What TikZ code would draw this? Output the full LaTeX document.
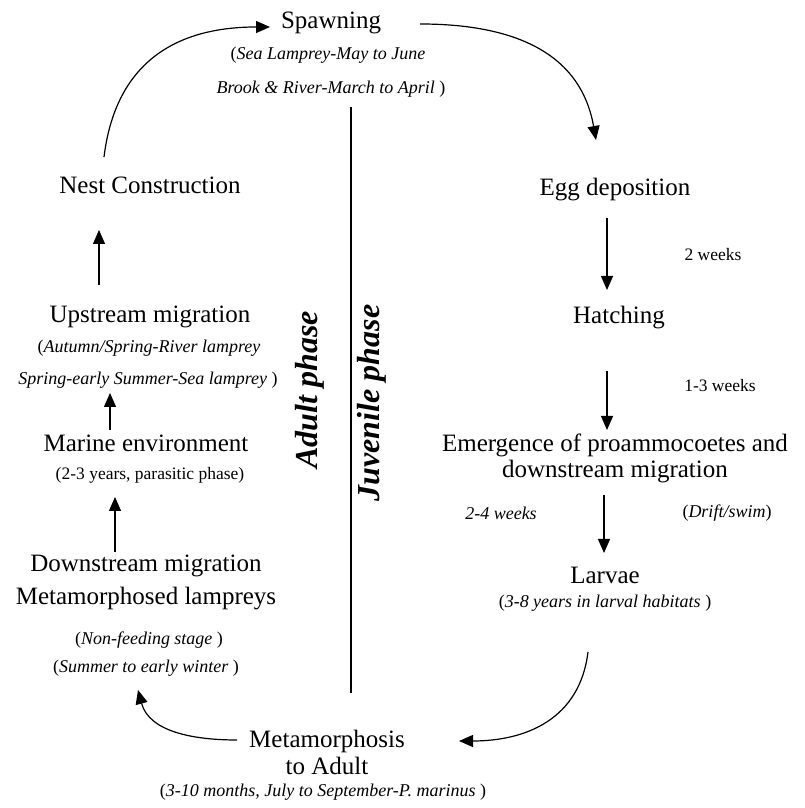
\documentclass[tikz,border=0pt]{standalone}
\usepackage{fontspec}
\setmainfont{Liberation Serif}
\usetikzlibrary{arrows.meta}

\begin{document}
\begin{tikzpicture}[x=1pt,y=1pt,
    stage/.style={font=\fontsize{25}{31}\selectfont,inner sep=0pt,align=center},
    note/.style={font=\fontsize{18}{20}\selectfont\itshape,inner sep=0pt},
    plain/.style={font=\fontsize{17.5}{20}\selectfont,inner sep=0pt},
    phase/.style={font=\fontsize{32}{34}\selectfont\bfseries\itshape,rotate=90,inner sep=0pt},
    arr/.style={-{Triangle[length=14pt,width=12pt]},line width=1.2pt}]
    \useasboundingbox (0,0) rectangle (804,808);
    \node[stage] (spawn) at (331,785) {Spawning};
    \node[note] (spawnA) at (328,753) {\upshape(\itshape Sea Lamprey-May to June};
    \node[note] (spawnB) at (331,719) {Brook \& River-March to April\upshape\ )};
    \node[stage] (nest) at (150,623) {Nest Construction};
    \node[stage] (up) at (150,491) {Upstream migration};
    \node[note] (upA) at (149,460) {\upshape(\itshape Autumn/Spring-River lamprey};
    \node[note] (upB) at (148,428) {Spring-early Summer-Sea lamprey\upshape\ )};
    \node[stage] (marine) at (146,365) {Marine environment};
    \node[plain] (marineA) at (150,333) {(2-3 years, parasitic phase)};
    \node[stage,font=\fontsize{25}{33}\selectfont] (down) at (146,226) {Downstream migration\\Metamorphosed lampreys};
    \node[note] (downA) at (149,168) {\upshape(\itshape Non-feeding stage\upshape\ )};
    \node[note] (downB) at (146,140) {\upshape(\itshape Summer to early winter\upshape\ )};
    \node[phase] (adult) at (310,418) {Adult phase};
    \node[phase] (juv) at (372,405) {Juvenile phase};
    \coordinate (divtop) at (351,701);
    \coordinate (divbot) at (351,115);
    \draw[line width=1.1pt] (divtop) -- (divbot);
    \node[stage] (egg) at (615,618) {Egg deposition};
    \node[plain] (w2) at (713,553) {2 weeks};
    \node[stage] (hatch) at (619,490) {Hatching};
    \node[plain] (w13) at (720,422) {1-3 weeks};
    \node[stage,font=\fontsize{25}{26}\selectfont] (emerge) at (615,350) {Emergence of proammocoetes and\\downstream migration};
    \node[note] (w24) at (501,295) {2-4 weeks};
    \node[note] (drift) at (727,295) {\upshape(\itshape Drift/swim\upshape)};
    \node[stage] (larvae) at (605,233) {Larvae};
    \node[note] (larvaeA) at (605,205) {\upshape(\itshape 3-8 years in larval habitats\upshape\ )};
    \node[stage,font=\fontsize{25}{27}\selectfont] (meta) at (327,56) {Metamorphosis\\to Adult};
    \node[note] (metaA) at (323,16) {\upshape(\itshape 3-10 months, July to September-P. marinus\upshape\ )};
    \draw[arr] ([shift={(-46,28)}]nest.center) to[out=83,in=180,looseness=1.15] ([shift={(-61,-4)}]spawn.center);
    \draw[arr] ([shift={(89,-1)}]spawn.center) to[out=0,in=100,looseness=1.1] ([shift={(-19,50)}]egg.center);
    \draw[arr] ([shift={(-8,-28)}]egg.center) -- ([shift={(-12,28)}]hatch.center);
    \draw[arr] ([shift={(-12,-53)}]hatch.center) -- ([shift={(-8,28)}]emerge.center);
    \draw[arr] ([shift={(-11,-37)}]emerge.center) -- ([shift={(-1,22)}]larvae.center);
    \draw[arr] ([shift={(-17,-49)}]larvaeA.center) to[out=263,in=0,looseness=1.1] ([shift={(132,11)}]meta.center);
    \draw[arr] ([shift={(-90,12)}]meta.center) to[out=180,in=-75] ([shift={(-8,-22)}]downB.center);
    \draw[arr] ([shift={(-31,30)}]down.center) -- ([shift={(-35,-22)}]marineA.center);
    \draw[arr] ([shift={(-36,13)}]marine.center) -- ([shift={(-38,-13)}]upB.center);
    \draw[arr] ([shift={(-51,32)}]up.center) -- ([shift={(-51,-45)}]nest.center);
  \end{tikzpicture}
\end{document}
